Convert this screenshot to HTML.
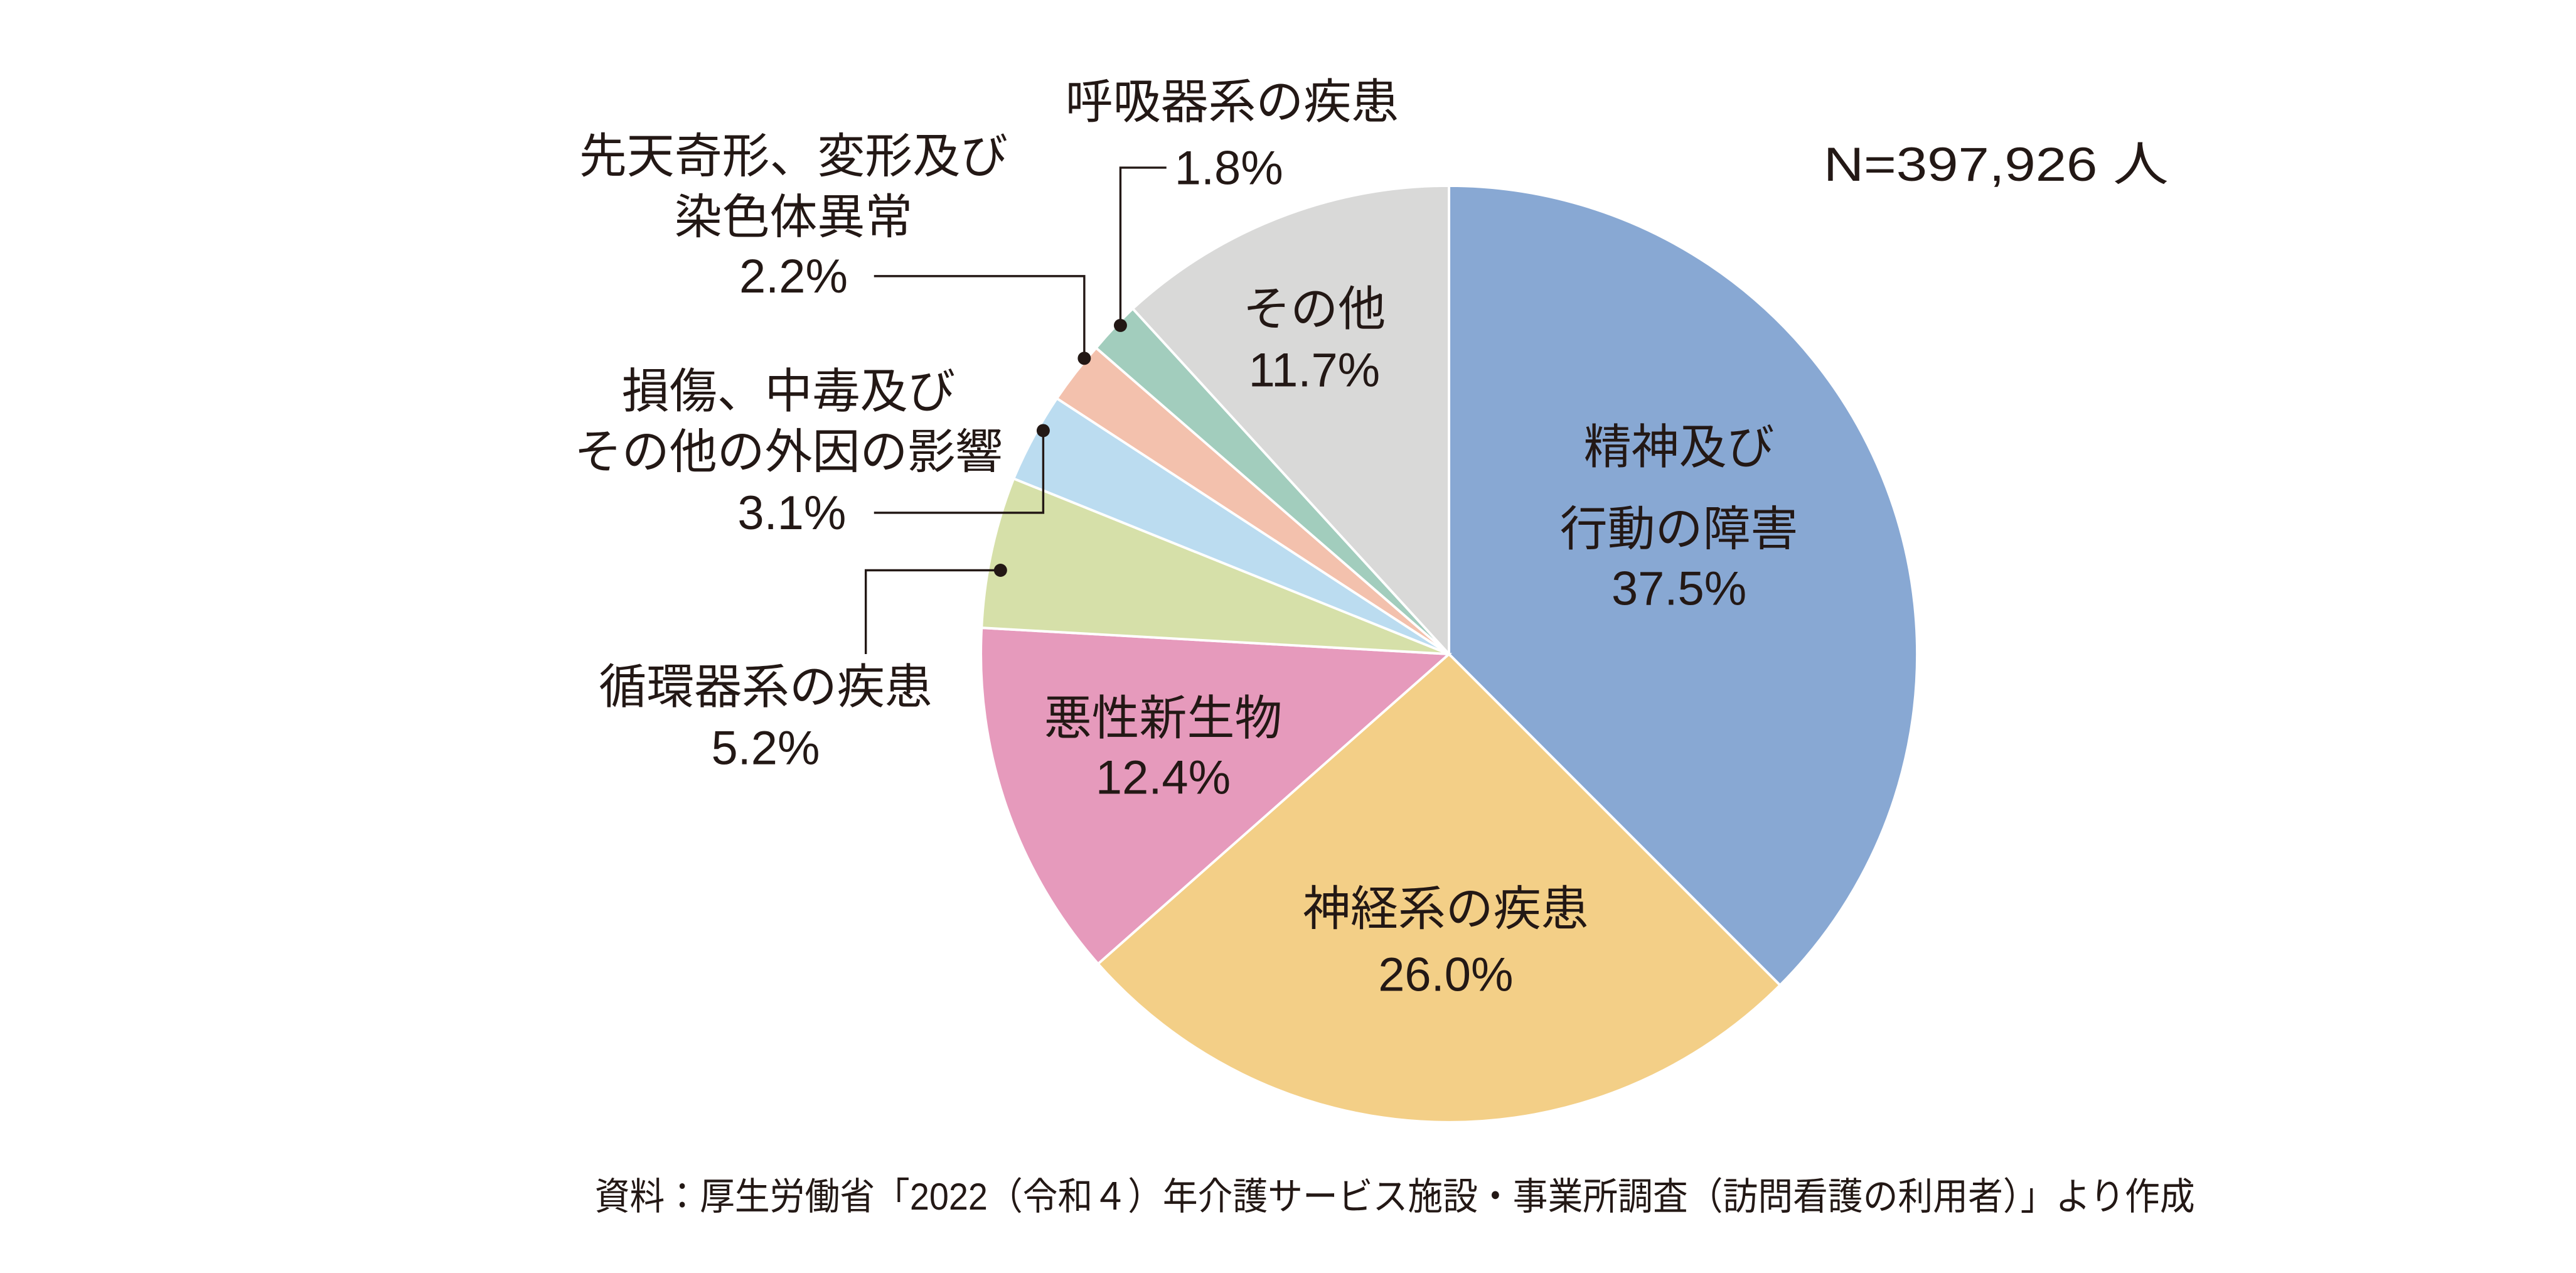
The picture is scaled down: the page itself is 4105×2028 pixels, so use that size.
<!DOCTYPE html>
<html><head><meta charset="utf-8"><style>html,body{margin:0;padding:0;background:#fff}svg{display:block}text{font-family:"Liberation Sans","Noto Sans CJK JP",sans-serif;fill:#231815}</style></head>
<body>
<svg width="4105" height="2028" viewBox="0 0 1568 774.6" xmlns="http://www.w3.org/2000/svg">
<g stroke="#fff" stroke-width="1.5">
<path d="M882,398 L882,113 A285,285 0 0 1 1083.5,599.5 Z" fill="#88a8d3"/>
<path d="M882,398 L1083.5,599.5 A285,285 0 0 1 668.4,586.5 Z" fill="#f3cf87"/>
<path d="M882,398 L668.4,586.5 A285,285 0 0 1 597.5,382.0 Z" fill="#e69abc"/>
<path d="M882,398 L597.5,382.0 A285,285 0 0 1 617.0,291.2 Z" fill="#d6e0a9"/>
<path d="M882,398 L617.0,291.2 A285,285 0 0 1 643.3,242.4 Z" fill="#bbdcf0"/>
<path d="M882,398 L643.3,242.4 A285,285 0 0 1 667.2,211.7 Z" fill="#f3c1ad"/>
<path d="M882,398 L667.2,211.7 A285,285 0 0 1 689.5,187.8 Z" fill="#a2cdbd"/>
<path d="M882,398 L689.5,187.8 A285,285 0 0 1 882,113 Z" fill="#d9d9d8"/>
</g>
<g stroke="#231815" stroke-width="1.3" fill="none">
<polyline points="710,102 682,102 682,198"/>
<polyline points="532,168 660,168 660,218"/>
<polyline points="532,312 635,312 635,262"/>
<polyline points="609,347 527,347 527,398"/>
</g>
<g fill="#231815"><circle cx="682" cy="198" r="4"/><circle cx="660" cy="218" r="4"/><circle cx="635" cy="262" r="4"/><circle cx="609" cy="347" r="4"/></g>
<g font-size="29" text-anchor="middle">
<text x="1022" y="282">精神及び</text>
<text x="1022" y="332">行動の障害</text>
<text x="1022" y="368">37.5%</text>
<text x="880" y="563">神経系の疾患</text>
<text x="880" y="603">26.0%</text>
<text x="708" y="447">悪性新生物</text>
<text x="708" y="483">12.4%</text>
<text x="800" y="198">その他</text>
<text x="800" y="235">11.7%</text>
<text x="466" y="428">循環器系の疾患</text>
<text x="466" y="465">5.2%</text>
<text x="480" y="248">損傷、中毒及び</text>
<text x="480" y="285">その他の外因の影響</text>
<text x="482" y="322">3.1%</text>
<text x="483" y="105">先天奇形、変形及び</text>
<text x="483" y="142">染色体異常</text>
<text x="483" y="178">2.2%</text>
<text x="750" y="72">呼吸器系の疾患</text>
<text x="748" y="112">1.8%</text>
</g>
<text x="1110" y="110" font-size="29" textLength="210" lengthAdjust="spacingAndGlyphs">N=397,926 人</text>
<text x="362" y="736" font-size="23" textLength="974" lengthAdjust="spacingAndGlyphs">資料：厚生労働省「2022（令和４）年介護サービス施設・事業所調査（訪問看護の利用者）」より作成</text>
</svg>
</body></html>
